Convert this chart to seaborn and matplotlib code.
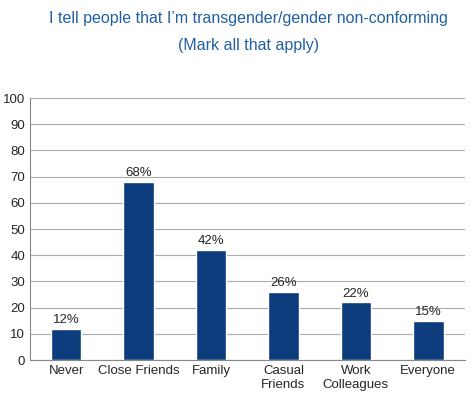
import matplotlib
matplotlib.use("Agg")
import matplotlib.pyplot as plt
import seaborn as sns
import pandas as pd

categories = ["Never", "Close Friends", "Family", "Casual\nFriends", "Work\nColleagues", "Everyone"]
values = [12, 68, 42, 26, 22, 15]

sns.set_style("white")
plt.rcParams['font.family'] = ['Liberation Sans', 'DejaVu Sans']

df = pd.DataFrame({"cat": categories, "val": values})

fig = plt.figure(figsize=(4.74, 4.12), dpi=100)
ax = fig.add_axes([0.063, 0.126, 0.917, 0.636])
sns.barplot(data=df, x="cat", y="val", color="#0d3c7c", width=0.42, ax=ax, saturation=1)

for i, v in enumerate(values):
    ax.text(i, v + 1, f"{v}%", ha="center", va="bottom", fontsize=9.5)

ax.set_ylim(0, 100)
ax.set_yticks(range(0, 101, 10))
ax.yaxis.grid(True, color="#aaaaaa", linewidth=0.8)
ax.set_axisbelow(True)
ax.set_xlabel("")
ax.set_ylabel("")
ax.tick_params(axis="both", labelsize=9.5, length=0)
for s in ["top", "right"]:
    ax.spines[s].set_visible(False)
ax.spines["left"].set_color("#888888")
ax.spines["bottom"].set_color("#888888")

fig.text(0.525, 0.955, "I tell people that I\u2019m transgender/gender non-conforming",
         ha="center", va="center", fontsize=11.5, color="#2060a0")
fig.text(0.525, 0.89, "(Mark all that apply)", ha="center", va="center",
         fontsize=11.5, color="#2060a0")

fig.savefig("out.png", dpi=100)
